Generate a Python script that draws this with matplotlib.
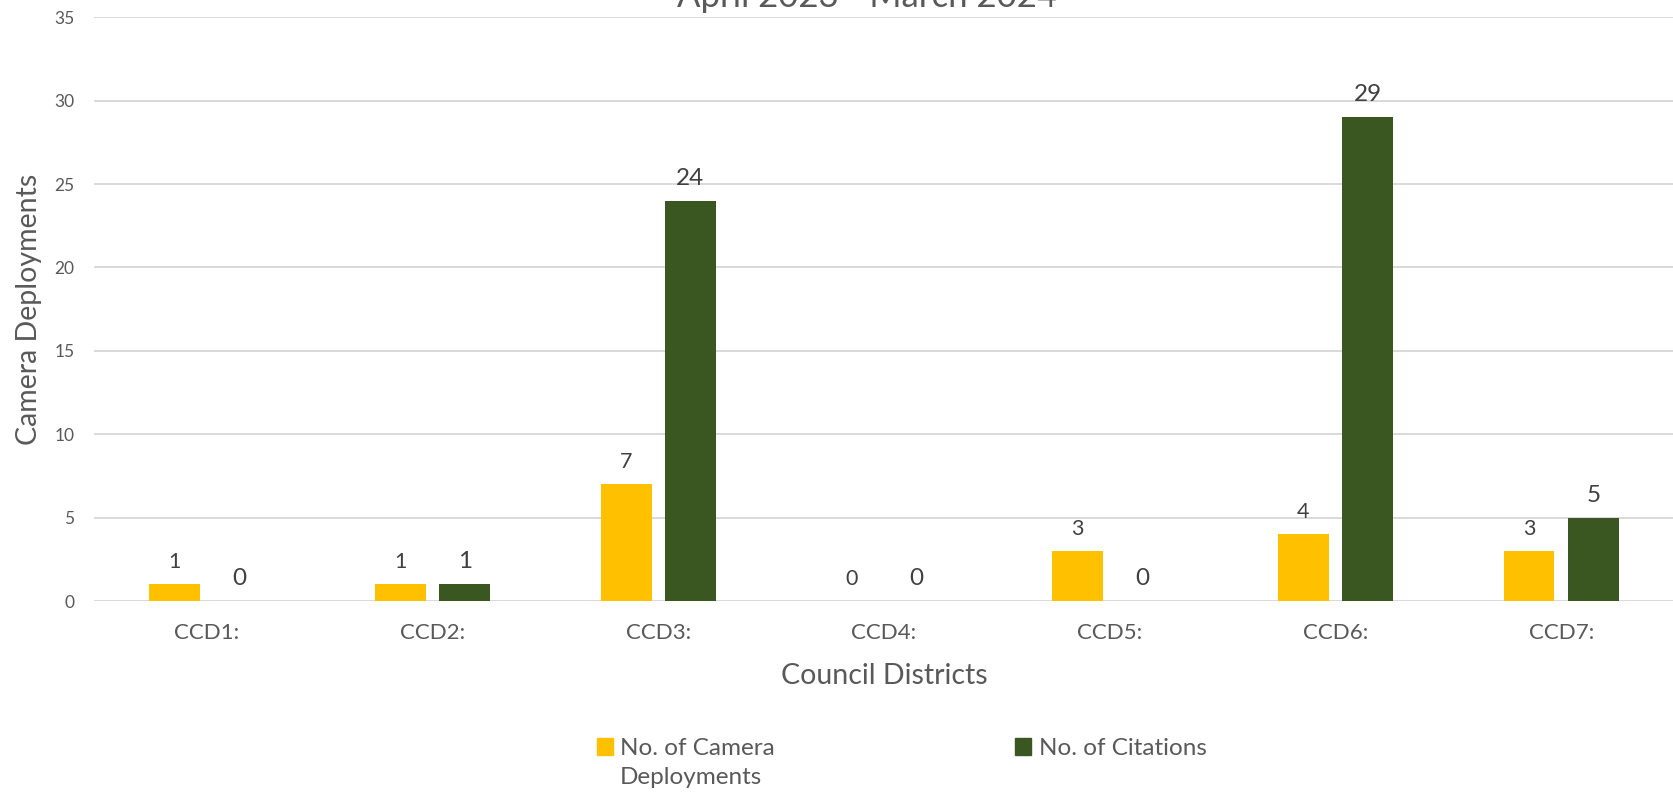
import numpy as np
import matplotlib.pyplot as plt
from matplotlib.patches import Patch

districts = ['CCD1:', 'CCD2:', 'CCD3:', 'CCD4:', 'CCD5:', 'CCD6:', 'CCD7:']
deployments = [1, 1, 7, 0, 3, 4, 3]
citations = [0, 1, 24, 0, 0, 29, 5]
yticks = [0, 5, 10, 15, 20, 25, 30, 35]

yellow = '#FFC000'
green = '#3A5722'
grey_txt = '#595959'
lab_txt = '#404040'

plt.rcParams['font.family'] = ['Lato', 'DejaVu Sans']

W, H = 1674, 792
fig = plt.figure(figsize=(W / 100, H / 100), dpi=100)
ax = fig.add_axes([94 / W, 1 - 601 / H, (W - 94) / W, (601 - 17.3) / H])

x = np.arange(len(districts))
bw = 0.225
off = 0.1425
ax.bar(x - off, deployments, bw, color=yellow, zorder=2)
ax.bar(x + off, citations, bw, color=green, zorder=2)

# data labels above bars
for xi, v in zip(x - off, deployments):
    ax.annotate(str(v), (xi, v), xytext=(0, 11.5), textcoords='offset points',
                ha='center', va='baseline', fontsize=15.5, color=lab_txt)
for xi, v in zip(x + off, citations):
    ax.annotate(str(v), (xi, v), xytext=(0, 11.5), textcoords='offset points',
                ha='center', va='baseline', fontsize=17.5, color=lab_txt)

ax.set_xlim(-0.5, len(districts) - 0.5)
ax.set_ylim(0, 35)
ax.set_yticks(yticks)
ax.set_xticks(x)
ax.set_xticklabels(districts)
ax.tick_params(axis='y', length=0, pad=14, labelsize=12.5, labelcolor=grey_txt)
ax.tick_params(axis='x', length=0, pad=16, labelsize=16, labelcolor=grey_txt)
ax.yaxis.grid(True, color='#D9D9D9', linewidth=1.4, zorder=0)
ax.set_axisbelow(True)
for s in ax.spines.values():
    s.set_visible(False)

ax.set_ylabel('Camera Deployments', fontsize=20.5, color=grey_txt)
ax.yaxis.set_label_coords(-0.033, 0.5)
ax.set_xlabel('Council Districts', fontsize=20.5, color=grey_txt)
ax.xaxis.set_label_coords(0.50, -0.107)

fig.text(867 / W, 1 - 7 / H, 'April 2023 - March 2024', ha='center', va='baseline',
         fontsize=25, color=grey_txt)

handles = [Patch(color=yellow), Patch(color=green)]
leg = fig.legend(handles, ['No. of Camera', 'No. of Citations'], ncol=2,
                 loc='upper left', bbox_to_anchor=(597 / W, 1 - 738 / H),
                 frameon=False, fontsize=17.5, handlelength=0.65, handleheight=0.65,
                 handletextpad=0.3, columnspacing=9.9, borderpad=0, borderaxespad=0,
                 labelcolor=grey_txt)

# second line of the first legend entry, placed under it
fig.canvas.draw()
bb = leg.get_texts()[0].get_window_extent()
fig.text(bb.x0 / W, (bb.y0 - 8) / H, 'Deployments', ha='left', va='top',
         fontsize=17.5, color=grey_txt)

fig.savefig('out.png', dpi=100)
